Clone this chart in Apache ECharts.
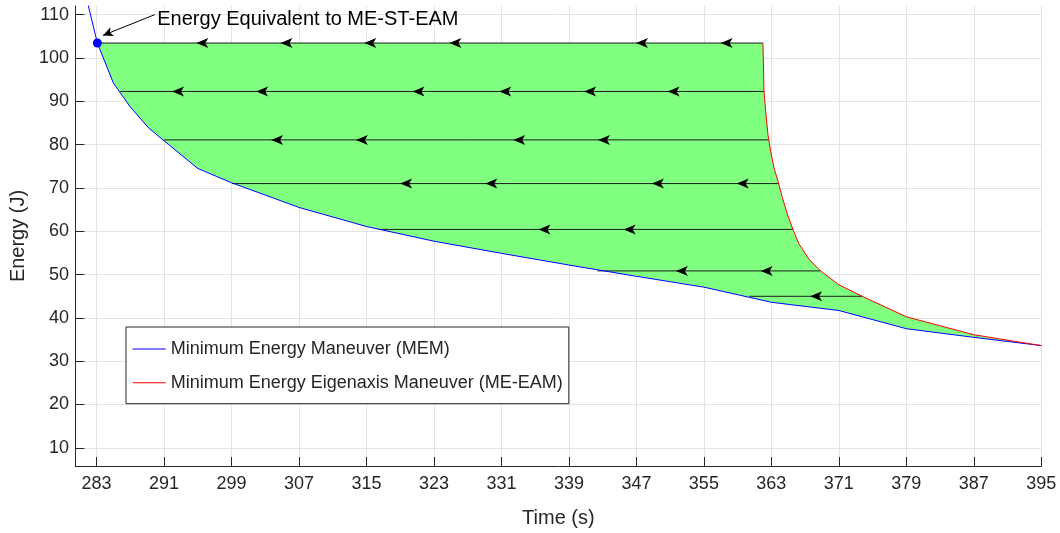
<!DOCTYPE html>
<html>
<head>
<meta charset="utf-8">
<script src="https://cdn.jsdelivr.net/npm/echarts@6/dist/echarts.min.js"></script>
<style>
  html, body { margin: 0; padding: 0; background: #fff; }
  #chart { width: 1060px; height: 533px; }
</style>
</head>
<body>
<div id="chart"></div>
<script>
// ---- Data ----
const xTicks = [283, 291, 299, 307, 315, 323, 331, 339, 347, 355, 363, 371, 379, 387, 395];
const yTicks = [10, 20, 30, 40, 50, 60, 70, 80, 90, 100, 110];

// Minimum Energy Maneuver (MEM) - blue
const memTime   = [282.0, 283.1, 285.0, 287.0, 289.2, 291.0, 295.0, 299.0, 307.0, 315.0, 323.0, 331.0, 339.0, 347.0, 355.0, 363.0, 371.0, 379.0, 387.0, 395.0];
const memEnergy = [112.3, 103.45, 94.2, 88.7, 83.8, 80.9, 74.5, 71.2, 65.5, 61.1, 57.7, 54.9, 52.2, 49.6, 47.1, 43.6, 41.7, 37.5, 35.5, 33.6];

// Minimum Energy Eigenaxis Maneuver (ME-EAM) - red
const eamTime   = [362.0, 362.13, 362.33, 362.6, 362.92, 363.31, 363.78, 364.3, 364.89, 365.6, 366.26, 367.44, 368.83, 371.0, 373.76, 379.0, 387.0, 395.0];
const eamEnergy = [103.45, 92.27, 87.57, 82.23, 78.44, 74.64, 71.6, 67.79, 63.98, 60.19, 57.14, 53.58, 50.84, 47.64, 44.98, 40.25, 36.1, 33.6];

// Horizontal constant-energy lines
const lineEnergy = [103.45, 92.27, 81.09, 71.0, 60.42, 50.84, 44.98];
const lineStart  = [283.1, 285.81, 291.0, 299.05, 316.4, 342.4, 360.4];
const lineEnd    = [362.0, 362.13, 362.7, 363.86, 365.56, 368.83, 373.76];

// Arrow positions along each line (time values)
const arrowTimes = [
  [295.54, 305.52, 315.45, 325.54, 347.66, 357.7],
  [292.66, 302.63, 321.17, 331.46, 341.51, 351.41],
  [304.41, 314.46, 333.11, 343.16],
  [319.7, 329.8, 349.55, 359.6],
  [336.1, 346.2],
  [352.39, 362.44],
  [368.3]
];

// Marked point and annotation
const markTime = 283.1, markEnergy = 103.45;
const annotText = 'Energy Equivalent to ME-ST-EAM';
const annotTextPos = [290.2, 108.95];
const annotArrowFrom = [289.9, 110.0];
const annotArrowTo = [283.76, 105.21];

const memName = 'Minimum Energy Maneuver (MEM)';
const eamName = 'Minimum Energy Eigenaxis Maneuver (ME-EAM)';

// ---- Build ----
const memData = memTime.map((t, i) => [t, memEnergy[i]]);
const eamData = eamTime.map((t, i) => [t, eamEnergy[i]]);
const lineRows = lineEnergy.map((e, i) => [lineStart[i], lineEnd[i], e]);
const arrowData = [];
arrowTimes.forEach((row, i) => row.forEach(t => arrowData.push([t, lineEnergy[i]])));

const FONT = '"Liberation Sans", Arial, Helvetica, sans-serif';
const TXT = '#262626';
// thin horizontal line icon inside a 33x20 box (tiny corner specks fix the bounds)
const LEGEND_ICON = 'path://M0,0 L0.01,0 L0.01,0.01 Z M0,9.5 L33,9.5 L33,10.5 L0,10.5 Z M33,20 L32.99,20 L32.99,19.99 Z';

const chart = echarts.init(document.getElementById('chart'), null, { renderer: 'canvas' });

const option = {
  animation: false,
  backgroundColor: '#ffffff',
  textStyle: { fontFamily: FONT },
  grid: { left: 73.3, right: 18.7, top: 6, bottom: 61.3, containLabel: false },
  legend: {
    data: [
      { name: memName, icon: LEGEND_ICON, itemStyle: { color: '#0000ff' } },
      { name: eamName, icon: LEGEND_ICON, itemStyle: { color: '#ff0000' } }
    ],
    orient: 'vertical',
    left: 126,
    top: 327,
    padding: [12, 6, 11, 6.7],
    itemGap: 13.7,
    itemWidth: 33,
    itemHeight: 20,
    borderColor: '#262626',
    borderWidth: 1,
    backgroundColor: '#ffffff',
    textStyle: { fontFamily: FONT, fontSize: 18, color: TXT, lineHeight: 20 },
    selectedMode: false
  },
  xAxis: {
    type: 'value',
    min: 280.5,
    max: 395,
    name: 'Time (s)',
    nameLocation: 'middle',
    nameGap: 42,
    nameTextStyle: { fontFamily: FONT, fontSize: 20, color: TXT },
    axisLine: { show: true, lineStyle: { color: '#262626', width: 1 } },
    axisTick: { show: true, inside: true, length: 9, customValues: xTicks, lineStyle: { color: '#262626' } },
    axisLabel: { customValues: xTicks, fontFamily: FONT, fontSize: 18, color: TXT, margin: 9 },
    splitLine: { show: true, lineStyle: { color: '#e3e3e3', width: 1 } }
  },
  yAxis: {
    type: 'value',
    min: 5.8,
    max: 112,
    name: 'Energy (J)',
    nameLocation: 'middle',
    nameGap: 42,
    nameTextStyle: { fontFamily: FONT, fontSize: 20, color: TXT },
    axisLine: { show: true, lineStyle: { color: '#262626', width: 1 } },
    axisTick: { show: true, inside: true, length: 9, customValues: yTicks, lineStyle: { color: '#262626' } },
    axisLabel: { customValues: yTicks, fontFamily: FONT, fontSize: 18, color: TXT, margin: 6.5 },
    splitLine: { show: true, lineStyle: { color: '#e3e3e3', width: 1 } }
  },
  series: [
    {
      name: 'fill',
      type: 'custom',
      z: 1,
      silent: true,
      data: [[markTime, markEnergy]],
      encode: { x: 0, y: 1 },
      renderItem: function (params, api) {
        const pts = [];
        eamData.forEach(d => pts.push(api.coord(d)));
        for (let i = memData.length - 1; i >= 0; i--) {
          if (memData[i][1] <= markEnergy + 1e-9) pts.push(api.coord(memData[i]));
        }
        return { type: 'polygon', shape: { points: pts }, style: { fill: '#80ff80', stroke: null } };
      }
    },
    {
      name: 'levels',
      type: 'custom',
      z: 2,
      silent: true,
      data: lineRows,
      encode: { x: [0, 1], y: 2 },
      renderItem: function (params, api) {
        const p1 = api.coord([api.value(0), api.value(2)]);
        const p2 = api.coord([api.value(1), api.value(2)]);
        return {
          type: 'line',
          shape: { x1: p1[0], y1: p1[1], x2: p2[0], y2: p2[1] },
          style: { stroke: '#1a1a1a', lineWidth: 1 }
        };
      }
    },
    {
      name: 'arrows',
      type: 'scatter',
      z: 3,
      silent: true,
      data: arrowData,
      symbol: 'path://M0,5 L12,0 L9,5 L12,10 Z',
      symbolSize: [12, 10],
      itemStyle: { color: '#000000', opacity: 1 }
    },
    {
      name: memName,
      type: 'line',
      z: 4,
      data: memData,
      symbol: 'none',
      lineStyle: { color: '#0000ff', width: 1 },
      itemStyle: { color: '#0000ff' }
    },
    {
      name: eamName,
      type: 'line',
      z: 4,
      data: eamData,
      symbol: 'none',
      lineStyle: { color: '#ff0000', width: 1 },
      itemStyle: { color: '#ff0000' }
    },
    {
      name: 'mark',
      type: 'scatter',
      z: 5,
      silent: true,
      data: [[markTime, markEnergy]],
      symbol: 'circle',
      symbolSize: 9,
      itemStyle: { color: '#0000ff', opacity: 1 },
      markLine: {
        silent: true,
        animation: false,
        symbol: ['none', 'arrow'],
        symbolSize: [7, 10],
        lineStyle: { color: '#000000', width: 1, type: 'solid' },
        label: { show: false },
        data: [[{ coord: annotArrowFrom }, { coord: annotArrowTo }]]
      },
      markPoint: {
        silent: true,
        animation: false,
        symbol: 'circle',
        symbolSize: 0,
        label: {
          show: true,
          position: 'right',
          distance: 0,
          formatter: annotText,
          fontFamily: FONT,
          fontSize: 20,
          color: '#000000'
        },
        data: [{ coord: annotTextPos }]
      }
    }
  ]
};

chart.setOption(option);
</script>
</body>
</html>
